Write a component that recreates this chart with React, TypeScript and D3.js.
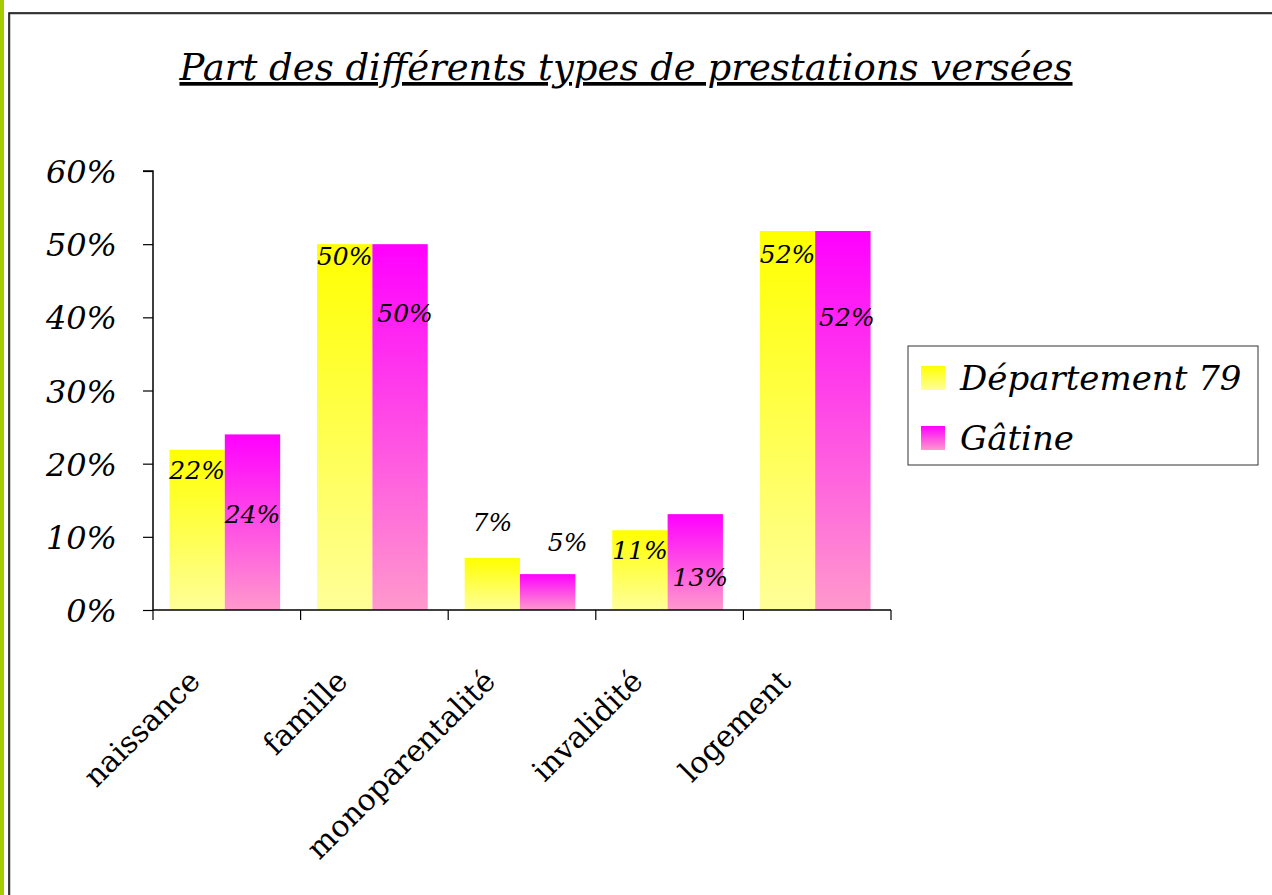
import React, { useRef, useEffect } from 'react';
import * as d3 from 'd3';

// chart data
const categories = ['naissance', 'famille', 'monoparentalité', 'invalidité', 'logement'];
const seriesNames = ['Département 79', 'Gâtine'];
const departement = [0.219, 0.5, 0.071, 0.109, 0.518];
const gatine = [0.24, 0.5, 0.049, 0.131, 0.518];
const yTicks = [0, 0.1, 0.2, 0.3, 0.4, 0.5, 0.6];

// hand-placed label offsets (px from bar top), as in the original sheet
const labelDyDept = [20, 12, -36, 20, 23];
const labelDyGat = [80, 69, -32, 63, 86];
const labelDxGat = [0, 5, 20, 5, 4];

const W = 1272;
const H = 895;
const FONT = '"DejaVu Serif", serif';

const App = () => {
  const svgRef = useRef<SVGSVGElement>(null);

  useEffect(() => {
    const svg = d3.select(svgRef.current);
    svg.selectAll('*').remove();

    const margin = { left: 153, right: 381, top: 171, bottom: 285 };
    const x0 = margin.left;
    const x1 = W - margin.right;
    const yTop = margin.top;
    const yBottom = H - margin.bottom;

    const defs = svg.append('defs');
    const grad = (id: string, top: string, bottom: string) => {
      const g = defs.append('linearGradient').attr('id', id)
        .attr('x1', 0).attr('y1', 0).attr('x2', 0).attr('y2', 1);
      g.append('stop').attr('offset', '0%').attr('stop-color', top);
      g.append('stop').attr('offset', '100%').attr('stop-color', bottom);
    };
    grad('gYellow', '#ffff00', '#ffff99');
    grad('gPink', '#ff00ff', '#ff99cc');
    const fills = ['url(#gYellow)', 'url(#gPink)'];

    // background + frame
    svg.append('rect').attr('width', W).attr('height', H).attr('fill', '#fff');
    svg.append('rect').attr('x', 0).attr('y', 0).attr('width', 4).attr('height', H).attr('fill', '#a4cc00');
    svg.append('rect').attr('x', 10).attr('y', 14).attr('width', W + 20).attr('height', H + 20)
      .attr('fill', 'none').attr('stroke', '#999').attr('stroke-width', 1);
    svg.append('rect').attr('x', 9).attr('y', 13).attr('width', W + 20).attr('height', H + 20)
      .attr('fill', 'none').attr('stroke', '#000').attr('stroke-width', 1.5);

    // title
    svg.append('text')
      .attr('x', 626).attr('y', 80)
      .attr('text-anchor', 'middle')
      .attr('font-family', FONT).attr('font-style', 'italic')
      .attr('font-size', 37)
      .attr('text-decoration', 'underline')
      .text('Part des différents types de prestations versées');

    const xScale = d3.scaleBand().domain(categories).range([x0, x1]).paddingInner(0.25).paddingOuter(0.125);
    const xSub = d3.scaleBand().domain(seriesNames).range([0, xScale.bandwidth()]);
    const yScale = d3.scaleLinear().domain([0, 0.6]).range([yBottom, yTop]);

    const g = svg.append('g');

    const series = [departement, gatine];
    series.forEach((vals, si) => {
      g.selectAll(`.bar-${si}`)
        .data(vals)
        .enter()
        .append('rect')
        .attr('x', (d, i) => (xScale(categories[i]) as number) + (xSub(seriesNames[si]) as number) - 2)
        .attr('y', d => yScale(d))
        .attr('width', xSub.bandwidth())
        .attr('height', d => yBottom - yScale(d))
        .attr('fill', fills[si]);
    });

    // value labels
    const fmt = d3.format('.0%');
    series.forEach((vals, si) => {
      const dys = si === 0 ? labelDyDept : labelDyGat;
      g.selectAll(`.lab-${si}`)
        .data(vals)
        .enter()
        .append('text')
        .attr('x', (d, i) => (xScale(categories[i]) as number) + (xSub(seriesNames[si]) as number) - 2
          + xSub.bandwidth() / 2 + (si === 1 ? labelDxGat[i] : 0))
        .attr('y', (d, i) => yScale(d) + dys[i] + 9)
        .attr('text-anchor', 'middle')
        .attr('font-family', FONT).attr('font-style', 'italic')
        .attr('font-size', 25)
        .text(d => fmt(d));
    });

    // y axis
    const yAxis = d3.axisLeft(yScale).tickValues(yTicks).tickFormat(d3.format('.0%')).tickSize(10);
    const ya = svg.append('g').attr('transform', `translate(${x0},0)`).call(yAxis);
    ya.select('.domain').attr('stroke', '#000').attr('stroke-width', 1.5).attr('d', `M-10,${yTop}H0V${yBottom}`);
    ya.selectAll('.tick line').attr('stroke', '#000').attr('stroke-width', 1.2);
    ya.selectAll('.tick text')
      .attr('x', -36)
      .attr('dy', '0.36em')
      .attr('font-family', FONT).attr('font-style', 'italic')
      .attr('font-size', 32).attr('fill', '#000');

    // x axis
    svg.append('line').attr('x1', x0).attr('x2', x1).attr('y1', yBottom).attr('y2', yBottom)
      .attr('stroke', '#000').attr('stroke-width', 1.5);
    const step = xScale.step();
    const bounds = d3.range(categories.length + 1).map(i => x0 + i * step);
    svg.selectAll('.xtick')
      .data(bounds)
      .enter()
      .append('line')
      .attr('x1', d => d).attr('x2', d => d)
      .attr('y1', yBottom).attr('y2', yBottom + 10)
      .attr('stroke', '#000').attr('stroke-width', 1.2);

    svg.selectAll('.xlab')
      .data(categories)
      .enter()
      .append('text')
      .attr('transform', d => `translate(${(xScale(d) as number) + xScale.bandwidth() / 2 - 25},683) rotate(-45)`)
      .attr('text-anchor', 'end')
      .attr('font-family', FONT)
      .attr('font-size', 30)
      .text(d => d);

    // legend
    const lg = svg.append('g').attr('transform', 'translate(908,346)');
    lg.append('rect').attr('width', 350).attr('height', 119)
      .attr('fill', '#fff').attr('stroke', '#333').attr('stroke-width', 1);
    seriesNames.forEach((name, i) => {
      lg.append('rect').attr('x', 13).attr('y', 20 + i * 60).attr('width', 24).attr('height', 24)
        .attr('fill', fills[i]);
      lg.append('text').attr('x', 52).attr('y', 44 + i * 60)
        .attr('font-family', FONT).attr('font-style', 'italic')
        .attr('font-size', 34)
        .text(name);
    });
  }, []);

  return (
    <div style={{ position: 'absolute', left: 0, top: 0 }}>
      <svg ref={svgRef} width={W} height={H} style={{ display: 'block' }}></svg>
    </div>
  );
};

export default App;
